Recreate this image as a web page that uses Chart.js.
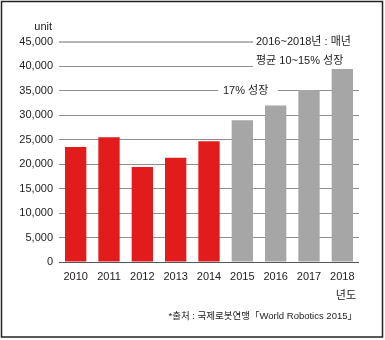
<!DOCTYPE html>
<html>
<head>
<meta charset="utf-8">
<script src="https://cdn.jsdelivr.net/npm/chart.js@4"></script>
<style>
  html, body { margin: 0; padding: 0; background: #fff; }
  #wrap { width: 385px; height: 340px; position: relative; }
</style>
</head>
<body>
<div id="wrap"><canvas id="robots" width="385" height="340"></canvas></div>
<script>
// Korean industrial robot shipments (units), 2015~2018 are forecasts
const years = ['2010', '2011', '2012', '2013', '2014', '2015', '2016', '2017', '2018'];
const units = [23508, 25536, 19424, 21307, 24721, 29000, 32000, 35200, 39500];
const yTicks = [0, 5000, 10000, 15000, 20000, 25000, 30000, 35000, 40000, 45000];
const firstForecast = '2015';

const RED = '#e21b1d';
const GRAY = '#a6a6a6';
const TEXT = '#222';
// latin glyphs from Liberation, hangul falls through to Noto CJK
const KR = '"Liberation Sans", "Noto Sans CJK KR", sans-serif';
const NUM = '"Liberation Sans", Arial, sans-serif';

const barColors = years.map(y => (y >= firstForecast ? GRAY : RED));

const notes = {
	id: 'notes',
	beforeDatasetsDraw(chart) {
		const ctx = chart.ctx;
		const y = chart.scales.y;
		ctx.save();
		ctx.fillStyle = '#fff';
		// break the grid lines behind the annotation texts
		ctx.fillRect(253, y.getPixelForValue(45000) - 4, 110, y.getPixelForValue(40000) - y.getPixelForValue(45000) + 8);
		ctx.fillRect(218, y.getPixelForValue(35000) - 6, 60, 12);
		ctx.restore();
	},
	afterDraw(chart) {
		const ctx = chart.ctx;
		const y = chart.scales.y;
		ctx.save();
		ctx.fillStyle = TEXT;
		ctx.textBaseline = 'middle';

		ctx.font = '11px ' + KR;
		ctx.textAlign = 'left';
		ctx.fillText('2016~2018년 : 매년', 256, y.getPixelForValue(45000));
		ctx.fillText('평균 10~15% 성장', 256, y.getPixelForValue(40000) - 5);
		ctx.fillText('17% 성장', 223, y.getPixelForValue(35000));

		ctx.font = '11px ' + NUM;
		ctx.textAlign = 'right';
		ctx.fillText('unit', 52, 27);

		ctx.font = '11px ' + KR;
		ctx.fillText('년도', 356, 296);

		ctx.font = '9.5px ' + KR;
		ctx.fillText('*출처 : 국제로봇연맹「World Robotics 2015」', 357, 316);

		// frame
		ctx.strokeStyle = '#222';
		ctx.lineWidth = 1.5;
		ctx.strokeRect(1.5, 1.5, 381, 335.5);
		ctx.restore();
	}
};

new Chart(document.getElementById('robots'), {
	type: 'bar',
	data: {
		labels: years,
		datasets: [{
			data: units,
			backgroundColor: barColors,
			borderWidth: 0,
			barPercentage: 0.64,
			categoryPercentage: 1
		}]
	},
	options: {
		responsive: false,
		animation: false,
		devicePixelRatio: 1,
		layout: { padding: { left: 0, right: 26, top: 42, bottom: 0 } },
		plugins: { legend: { display: false }, tooltip: { enabled: false } },
		scales: {
			x: {
				grid: { display: false, drawTicks: false },
				border: { display: false },
				ticks: { color: TEXT, font: { family: NUM, size: 11 }, padding: 8, maxRotation: 0 },
				afterFit: s => { s.height = 78; }
			},
			y: {
				min: 0,
				max: 45000,
				afterBuildTicks: s => { s.ticks = yTicks.map(v => ({ value: v })); },
				grid: {
					drawTicks: false,
					color: c => (c.tick.value === 0 ? '#555' : c.tick.value === 45000 ? '#b5b5b5' : '#8f8f8f'),
					lineWidth: c => (c.tick.value === 45000 ? 2 : 1)
				},
				border: { display: false },
				ticks: {
					color: TEXT,
					font: { family: NUM, size: 11 },
					padding: 6,
					callback: v => v.toLocaleString('en-US')
				},
				afterFit: s => { s.width = 59; }
			}
		}
	},
	plugins: [notes]
});
</script>
</body>
</html>
